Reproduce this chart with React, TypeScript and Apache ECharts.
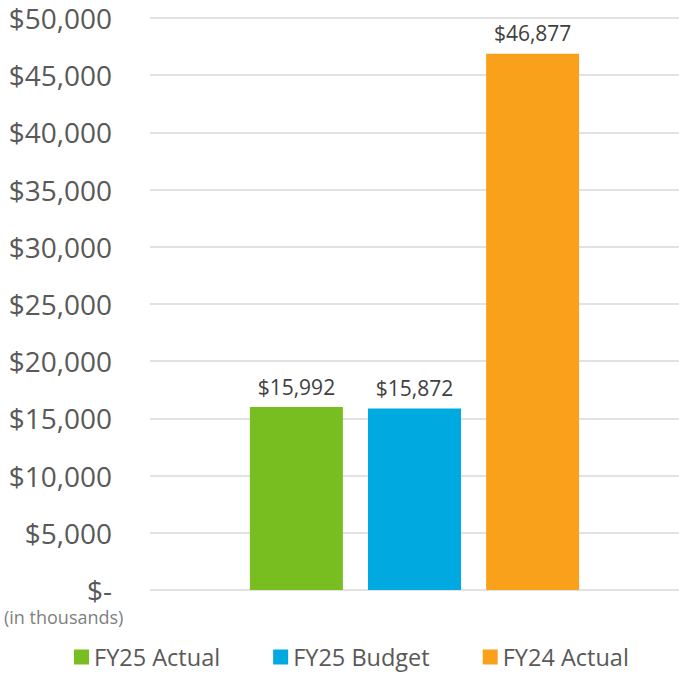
import React, { useEffect, useRef } from "react";
import * as echarts from "echarts";

const categories = ["Total"];
const seriesNames = ["FY25 Actual", "FY25 Budget", "FY24 Actual"];
const seriesValues = [15992, 15872, 46877];
const seriesColors = ["#78be20", "#00a9e0", "#f9a11b"];
const yMin = 0;
const yMax = 50000;
const yInterval = 5000;

const FONT = "'Open Sans', sans-serif";

export default function App() {
  const ref = useRef<HTMLDivElement>(null);
  useEffect(() => {
    if (!ref.current) return;
    const chart = echarts.init(ref.current, undefined, { renderer: "svg" });
    const fmt = (v: number) => (v === 0 ? "$-" : "$" + v.toLocaleString("en-US"));
    chart.setOption({
      animation: false,
      backgroundColor: "#ffffff",
      grid: { left: 150, right: 0, top: 18, bottom: 84, containLabel: false },
      legend: {
        bottom: 0,
        left: 69,
        itemWidth: 15,
        itemHeight: 15,
        itemGap: 53,
        icon: "rect",
        textStyle: { fontFamily: FONT, fontSize: 23.5, color: "#595959" },
        data: seriesNames,
      },
      xAxis: {
        type: "category",
        data: categories,
        axisLine: { show: false },
        axisTick: { show: false },
        axisLabel: { show: false },
      },
      yAxis: {
        type: "value",
        min: yMin,
        max: yMax,
        interval: yInterval,
        axisLine: { show: false },
        axisTick: { show: false },
        splitLine: { lineStyle: { color: "#d9d9d9", width: 1.5 } },
        axisLabel: {
          margin: 38,
          fontFamily: FONT,
          fontSize: 28,
          lineHeight: 20,
          color: "#595959",
          formatter: fmt,
        },
      },
      series: seriesNames.map((name, i) => ({
        name,
        type: "bar",
        barWidth: 93,
        barGap: "27%",
        itemStyle: { color: seriesColors[i] },
        label: {
          show: true,
          position: "top",
          distance: 10,
          fontFamily: FONT,
          fontSize: 21,
          color: "#404040",
          formatter: (p: any) => fmt(p.value),
        },
        data: [seriesValues[i]],
      })),
      graphic: [
        {
          type: "text",
          left: 4,
          top: 608,
          style: {
            text: "(in thousands)",
            fontFamily: FONT,
            fontSize: 18,
            lineHeight: 16,
            fill: "#7f7f7f",
          },
        },
      ],
    });
    return () => chart.dispose();
  }, []);
  return (
    <div
      ref={ref}
      style={{ position: "absolute", left: 0, top: 0, width: 679, height: 674 }}
    />
  );
}
